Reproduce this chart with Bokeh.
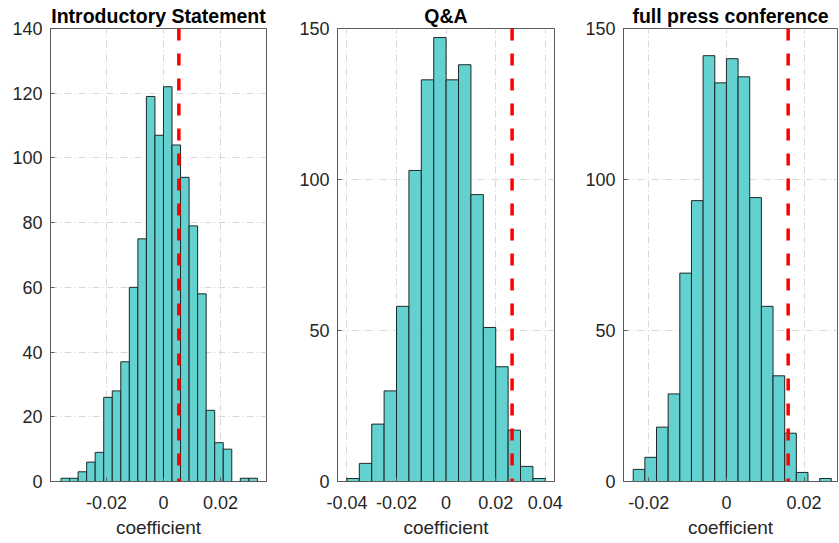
import numpy as np
from bokeh.plotting import figure
from bokeh.layouts import row
from bokeh.models import Range1d, FixedTicker, CustomJSTickFormatter, Span
from bokeh.embed import file_html
from bokeh.resources import INLINE

# ---------------- data ----------------
titles = ["Introductory Statement", "Q&A", "full press conference"]
x_label = "coefficient"

intro_edges = [-0.036, -0.033, -0.030, -0.027, -0.024, -0.021, -0.018, -0.015,
               -0.012, -0.009, -0.006, -0.003, 0.0, 0.003, 0.006, 0.009, 0.012,
               0.015, 0.018, 0.021, 0.024, 0.027, 0.030, 0.033]
intro_counts = [1, 1, 3, 6, 9, 26, 28, 37, 60, 75, 119, 107, 122, 104, 94, 79,
                58, 22, 12, 10, 0, 1, 1]
intro_coef = 0.0054

qa_edges = [-0.040, -0.035, -0.030, -0.025, -0.020, -0.015, -0.010, -0.005, 0.0,
            0.005, 0.010, 0.015, 0.020, 0.025, 0.030, 0.035, 0.040]
qa_counts = [1, 6, 19, 30, 58, 103, 133, 147, 133, 138, 95, 51, 38, 17, 5, 1]
qa_coef = 0.0266

full_edges = [-0.024, -0.021, -0.018, -0.015, -0.012, -0.009, -0.006, -0.003, 0.0,
              0.003, 0.006, 0.009, 0.012, 0.015, 0.018, 0.021, 0.024, 0.027]
full_counts = [4, 8, 18, 29, 69, 93, 141, 132, 140, 134, 94, 58, 35, 16, 3, 0, 1]
full_coef = 0.0159

intro_xticks = [-0.02, 0, 0.02]
qa_xticks = [-0.04, -0.02, 0, 0.02, 0.04]
full_xticks = [-0.02, 0, 0.02]
intro_yticks = [0, 20, 40, 60, 80, 100, 120, 140]
qa_yticks = [0, 50, 100, 150]
full_yticks = [0, 50, 100, 150]

# ---------------- styling ----------------
FONT = "Liberation Sans"
TXT = "#262626"
AX = "#5a5a5a"
BAR_FILL = "#63d1cf"
BAR_LINE = "#1e2828"
GRID = "#d8d8d8"
H = 542


def panel(title, edges, counts, coef, xticks, yticks, xr, yr, width, bl, br):
    p = figure(width=width, height=H, output_backend="svg", toolbar_location=None,
               x_range=Range1d(*xr), y_range=Range1d(*yr),
               min_border_left=bl, min_border_right=br,
               min_border_top=28, min_border_bottom=H - 481)
    p.title.text = title
    p.title.align = "center"
    p.title.text_font = FONT
    p.title.text_font_size = "19.5px"
    p.title.text_font_style = "bold"
    p.title.text_color = "#000000"
    p.title.standoff = 3
    p.title.offset = 0

    p.quad(left=edges[:-1], right=edges[1:], bottom=0, top=counts,
           fill_color=BAR_FILL, line_color=BAR_LINE, line_width=1)

    p.add_layout(Span(location=coef, dimension="height", line_color="#ff0000",
                      line_width=3.5, line_dash="12 13"))

    p.outline_line_color = AX
    p.outline_line_width = 1
    p.background_fill_color = "white"
    p.border_fill_color = "white"

    fmt = CustomJSTickFormatter(code="return String(Math.round(tick*100)/100);")
    p.xaxis.ticker = FixedTicker(ticks=xticks)
    p.xaxis.formatter = fmt
    p.yaxis.ticker = FixedTicker(ticks=yticks)
    for ax in (p.xaxis[0], p.yaxis[0]):
        ax.axis_line_color = AX
        ax.major_tick_line_color = AX
        ax.major_tick_in = 4
        ax.major_tick_out = 0
        ax.minor_tick_line_color = None
        ax.major_label_text_font = FONT
        ax.major_label_text_font_size = "18px"
        ax.major_label_text_color = TXT
    p.xaxis.major_label_standoff = 14
    p.yaxis.major_label_standoff = 8
    p.xaxis.axis_label = x_label
    p.xaxis.axis_label_text_font = FONT
    p.xaxis.axis_label_text_font_size = "19px"
    p.xaxis.axis_label_text_font_style = "normal"
    p.xaxis.axis_label_text_color = TXT
    p.xaxis.axis_label_standoff = 5

    p.xgrid.ticker = FixedTicker(ticks=xticks)
    p.ygrid.ticker = FixedTicker(ticks=yticks)
    for g in (p.xgrid[0], p.ygrid[0]):
        g.grid_line_color = GRID
        g.grid_line_dash = "7 3 1 3"
        g.grid_line_width = 1
    return p


p1 = panel(titles[0], intro_edges, intro_counts, intro_coef, intro_xticks, intro_yticks,
           (-0.0397, 0.0362), (0, 140), 290, 50, 24)
p2 = panel(titles[1], qa_edges, qa_counts, qa_coef, qa_xticks, qa_yticks,
           (-0.0438, 0.0437), (0, 150), 282, 47, 18)
p3 = panel(titles[2], full_edges, full_counts, full_coef, full_xticks, full_yticks,
           (-0.0265, 0.0286), (0, 150), 266, 51, 1)

layout = row(p1, p2, p3, spacing=0)
open("out.html", "w").write(file_html(layout, INLINE))
